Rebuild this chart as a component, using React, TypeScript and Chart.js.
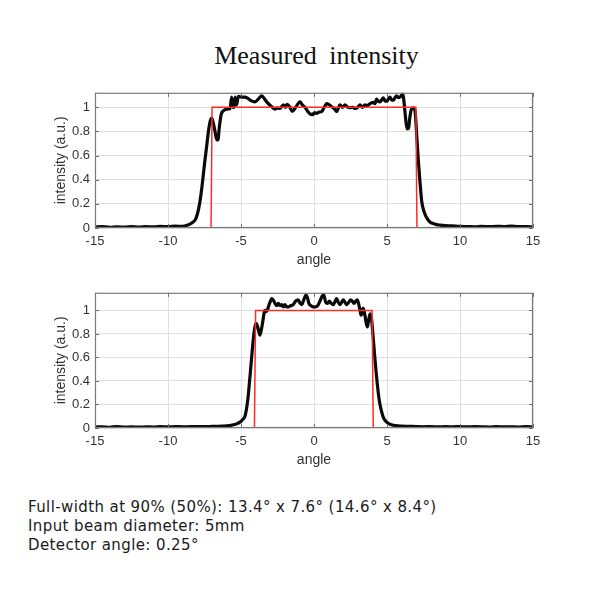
import React, { useEffect, useRef } from "react";
import { Chart, registerables } from "chart.js";

Chart.register(...registerables);

// ---- Data ----
const xTickValues = [-15, -10, -5, 0, 5, 10, 15];
const yTickValues = [0, 0.2, 0.4, 0.6, 0.8, 1];

// Top panel: measured intensity (black)
const topAngle = [
  -15, -14.5, -14, -13.5, -13, -12.5, -12, -11.5, -11, -10.5, -10, -9.5, -9, -8.7, -8.4, -8.1,
  -7.9, -7.75, -7.6, -7.5, -7.35, -7.22, -7.1, -7.0, -6.9, -6.78, -6.66, -6.58, -6.48, -6.36,
  -6.21, -5.98, -5.75, -5.64, -5.55, -5.47, -5.41, -5.3, -5.18, -4.95, -4.73, -4.55, -4.38,
  -4.04, -3.8, -3.58, -3.42, -3.24, -2.9, -2.67, -2.5, -2.33, -2.1, -1.95, -1.85, -1.65, -1.49,
  -1.25, -0.96, -0.8, -0.62, -0.45, -0.27, -0.1, 0.05, 0.18, 0.35, 0.53, 0.7, 0.87, 1.05, 1.21,
  1.38, 1.55, 1.78, 1.95, 2.12, 2.3, 2.47, 2.65, 2.81, 3.0, 3.15, 3.32, 3.49, 3.65, 3.84, 4.06,
  4.18, 4.29, 4.41, 4.52, 4.63, 4.75, 4.87, 4.98, 5.1, 5.21, 5.32, 5.43, 5.55, 5.66, 5.78, 5.89,
  6.0, 6.07, 6.16, 6.24, 6.32, 6.4, 6.48, 6.58, 6.7, 6.8, 6.92, 7.03, 7.14, 7.26, 7.38, 7.5,
  7.65, 7.83, 8.0, 8.17, 8.4, 8.63, 9.0, 9.3, 9.7, 10, 10.5, 11, 11.5, 12, 12.5, 13, 13.5, 14,
  14.5, 15,
];
const topIntensity = [
  0.008, 0.012, 0.006, 0.01, 0.007, 0.011, 0.008, 0.012, 0.009, 0.013, 0.011, 0.015, 0.014, 0.022,
  0.04, 0.075, 0.16, 0.27, 0.42, 0.53, 0.68, 0.81, 0.89, 0.91, 0.87, 0.8, 0.73, 0.73, 0.84, 0.94,
  0.97, 0.985, 0.99, 1.085, 1.0, 1.0, 1.085, 1.02, 1.09, 1.085, 1.085, 1.075, 1.06,
  1.045, 1.07, 1.095, 1.075, 1.045, 1.005, 0.985, 0.995, 0.99, 1.02, 1.0, 1.025, 1.0, 0.965,
  1.0, 1.045, 1.02, 1.0, 0.97, 0.945, 0.94, 0.955, 0.95, 0.96, 0.965, 1.0, 1.03, 1.02, 1.005,
  0.99, 0.965, 1.02, 1.0, 1.02, 1.0, 0.997, 1.0, 0.99, 1.0, 1.02, 1.0, 1.02, 1.015, 1.03, 1.04,
  1.03, 1.067, 1.05, 1.045, 1.06, 1.078, 1.05, 1.05, 1.07, 1.085, 1.06, 1.06, 1.08, 1.095, 1.08, 1.085,
  1.1, 1.115, 1.05, 0.95, 0.86, 0.82, 0.83, 0.93, 0.99, 0.995, 0.97, 0.78, 0.57, 0.38, 0.22, 0.15,
  0.1, 0.064, 0.045, 0.037, 0.028, 0.024, 0.02, 0.018, 0.016, 0.013, 0.012, 0.01, 0.013, 0.011, 0.014, 0.012, 0.015, 0.011,
  0.012, 0.009,
];
// Top panel: ideal top-hat (red)
const topIdealAngle = [-15, -7.05, -6.98, 6.98, 7.05, 15];
const topIdealIntensity = [0, 0, 1, 1, 0, 0];

// Bottom panel: measured intensity (black)
const bottomAngle = [
  -15, -14.5, -14, -13.5, -13, -12.5, -12, -11.5, -11, -10.5, -10, -9.5, -9, -8.5, -8, -7.5, -7,
  -6.5, -6, -5.6, -5.3, -5.07, -4.9, -4.73, -4.6, -4.5, -4.42, -4.34, -4.25, -4.16, -4.06, -3.97,
  -3.88, -3.78, -3.7, -3.6, -3.51, -3.43, -3.36, -3.28, -3.2, -3.1, -3.01, -2.9, -2.8, -2.67,
  -2.55, -2.44, -2.32, -2.21, -2.1, -1.99, -1.88, -1.76, -1.6, -1.42, -1.25, -1.08, -0.95, -0.84,
  -0.7, -0.55, -0.45, -0.35, -0.2, -0.05, 0.1, 0.25, 0.41, 0.55, 0.66, 0.8, 0.93, 1.05, 1.18,
  1.32, 1.45, 1.55, 1.66, 1.78, 1.9, 2.0, 2.12, 2.24, 2.38, 2.51, 2.62, 2.74, 2.86, 2.97, 3.07,
  3.15, 3.22, 3.29, 3.36, 3.42, 3.5, 3.58, 3.65, 3.72, 3.79, 3.86, 3.94, 4.02, 4.1, 4.18, 4.26,
  4.34, 4.43, 4.52, 4.63, 4.75, 4.9, 5.09, 5.3, 5.6, 6, 6.5, 7, 7.5, 8, 8.5, 9, 9.5, 10, 10.5,
  11, 11.5, 12, 12.5, 13, 13.5, 14, 14.5, 15,
];
const bottomIntensity = [
  0.008, 0.01, 0.006, 0.012, 0.008, 0.009, 0.007, 0.01, 0.008, 0.011, 0.009, 0.012, 0.01, 0.011, 0.012, 0.011, 0.013,
  0.015, 0.018, 0.025, 0.035, 0.05, 0.07, 0.1, 0.18, 0.28, 0.39, 0.5, 0.63, 0.75, 0.85, 0.89,
  0.87, 0.82, 0.79, 0.84, 0.905, 0.97, 1.0, 0.99, 1.0, 1.04, 1.07, 1.1, 1.09, 1.06,
  1.04, 1.06, 1.04, 1.05, 1.03, 1.05, 1.03, 1.03, 1.04, 1.05, 1.08, 1.09, 1.06, 1.05,
  1.09, 1.13, 1.11, 1.06, 1.04, 1.03, 1.03, 1.04, 1.08, 1.12, 1.135, 1.07, 1.06, 1.08, 1.06,
  1.05, 1.08, 1.1, 1.07, 1.05, 1.07, 1.09, 1.07, 1.05, 1.07, 1.09, 1.08, 1.06, 1.08, 1.09, 1.05,
  1.0, 0.96, 0.98, 1.02, 1.0, 0.95, 0.89, 0.86, 0.9, 0.95, 0.97, 0.93, 0.82, 0.7, 0.58, 0.47,
  0.37, 0.27, 0.2, 0.14, 0.09, 0.06, 0.04, 0.028, 0.02, 0.016, 0.014, 0.012, 0.01, 0.012, 0.009, 0.011, 0.01, 0.012, 0.009,
  0.011, 0.01, 0.008, 0.011, 0.009, 0.01, 0.008, 0.011, 0.009,
];
// Bottom panel: ideal top-hat (red)
const bottomIdealAngle = [-15, -4.08, -4.0, 3.98, 4.06, 15];
const bottomIdealIntensity = [0, 0, 1, 1, 0, 0];

const titleText = "Measured intensity";
const xAxisTitle = "angle";
const yAxisTitle = "intensity (a.u.)";
const noteLines = [
  "Full-width at 90% (50%): 13.4° x 7.6° (14.6° x 8.4°)",
  "Input beam diameter: 5mm",
  "Detector angle: 0.25°",
];

// ---- Chart helpers ----
const AXIS_FONT = "'Liberation Sans', Arial, sans-serif";

const framePlugin = {
  id: "matlabFrame",
  afterDatasetsDraw(chart: any) {
    const { ctx, chartArea } = chart;
    const { left, right, top, bottom } = chartArea;
    const xs = chart.scales.x;
    const ys = chart.scales.y;
    ctx.save();
    ctx.strokeStyle = "#6e6e6e";
    ctx.lineWidth = 1;
    const tl = 4;
    ctx.beginPath();
    xs.ticks.forEach((t: any) => {
      const px = Math.round(xs.getPixelForValue(t.value)) + 0.5;
      ctx.moveTo(px, bottom);
      ctx.lineTo(px, bottom - tl);
      ctx.moveTo(px, top);
      ctx.lineTo(px, top + tl);
    });
    ys.ticks.forEach((t: any) => {
      const py = Math.round(ys.getPixelForValue(t.value)) + 0.5;
      ctx.moveTo(left, py);
      ctx.lineTo(left + tl, py);
      ctx.moveTo(right, py);
      ctx.lineTo(right - tl, py);
    });
    ctx.stroke();
    ctx.strokeStyle = "#7a7a7a";
    ctx.lineWidth = 1.2;
    ctx.strokeRect(left + 0.5, top + 0.5, right - left - 1, bottom - top - 1);
    ctx.restore();
  },
};

function makeConfig(
  angles: number[],
  values: number[],
  idealAngles: number[],
  idealValues: number[],
  yMax: number
): any {
  return {
    type: "line",
    data: {
      datasets: [
        {
          data: idealAngles.map((a, i) => ({ x: a, y: idealValues[i] })),
          borderColor: "#ff2b2b",
          borderWidth: 1.5,
          pointRadius: 0,
          tension: 0,
        },
        {
          data: angles.map((a, i) => ({ x: a, y: values[i] })),
          borderColor: "#0a0a0a",
          borderWidth: 3.2,
          pointRadius: 0,
          cubicInterpolationMode: "monotone",
          borderJoinStyle: "round",
        },
      ],
    },
    options: {
      animation: false,
      responsive: false,
      maintainAspectRatio: false,
      layout: { padding: { top: 9, right: 17, left: 0, bottom: 0 } },
      plugins: { legend: { display: false }, tooltip: { enabled: false } },
      scales: {
        x: {
          type: "linear",
          min: -15,
          max: 15,
          afterBuildTicks: (s: any) => {
            s.ticks = xTickValues.map((v) => ({ value: v }));
          },
          afterFit: (s: any) => {
            s.height = 52;
          },
          grid: { color: "#e0e0e0", lineWidth: 1, drawTicks: false },
          border: { display: false },
          ticks: {
            padding: 6,
            color: "#333333",
            font: { family: AXIS_FONT, size: 13 },
            maxRotation: 0,
            callback: (v: any) => String(v),
          },
          title: {
            display: true,
            text: xAxisTitle,
            color: "#333333",
            font: { family: AXIS_FONT, size: 14, lineHeight: 1.2 },
            padding: { top: 0, bottom: 11.6 },
          },
        },
        y: {
          type: "linear",
          min: 0,
          max: yMax,
          afterBuildTicks: (s: any) => {
            s.ticks = yTickValues.map((v) => ({ value: v }));
          },
          afterFit: (s: any) => {
            s.width = 55;
          },
          grid: { color: "#e0e0e0", lineWidth: 1, drawTicks: false },
          border: { display: false },
          ticks: {
            padding: 5,
            color: "#333333",
            font: { family: AXIS_FONT, size: 13 },
            callback: (v: any) => String(Math.round(v * 10) / 10),
          },
          title: {
            display: true,
            text: yAxisTitle,
            color: "#333333",
            font: { family: AXIS_FONT, size: 14, lineHeight: 1.2 },
            padding: { top: 12.6, bottom: 0 },
          },
        },
      },
    },
    plugins: [framePlugin],
  };
}

function Panel(props: {
  top: number;
  angles: number[];
  values: number[];
  idealAngles: number[];
  idealValues: number[];
  yMax: number;
}) {
  const ref = useRef<HTMLCanvasElement | null>(null);
  useEffect(() => {
    if (!ref.current) return;
    const chart = new Chart(
      ref.current,
      makeConfig(props.angles, props.values, props.idealAngles, props.idealValues, props.yMax)
    );
    return () => chart.destroy();
  }, []);
  return (
    <canvas
      ref={ref}
      width={510}
      height={200}
      style={{ position: "absolute", left: 40, top: props.top, width: 510, height: 200, display: "block" }}
    />
  );
}

export default function App() {
  return (
    <div
      style={{
        position: "absolute",
        left: 0,
        top: 0,
        width: 600,
        height: 600,
        background: "#ffffff",
        overflow: "hidden",
      }}
    >
      <div
        style={{
          position: "absolute",
          left: 0,
          top: 43,
          width: 633,
          textAlign: "center",
          fontFamily: "'Liberation Serif', 'Times New Roman', serif",
          fontSize: 26,
          lineHeight: "26px",
          wordSpacing: 6,
          color: "#111",
          whiteSpace: "pre",
        }}
      >
        {titleText}
      </div>
      <Panel
        top={80}
        angles={topAngle}
        values={topIntensity}
        idealAngles={topIdealAngle}
        idealValues={topIdealIntensity}
        yMax={1.12}
      />
      <Panel
        top={280}
        angles={bottomAngle}
        values={bottomIntensity}
        idealAngles={bottomIdealAngle}
        idealValues={bottomIdealIntensity}
        yMax={1.15}
      />
      <div
        style={{
          position: "absolute",
          left: 28,
          top: 498,
          fontFamily: "'DejaVu Sans', Verdana, sans-serif",
          fontSize: 15,
          lineHeight: "19px",
          letterSpacing: 0.4,
          color: "#1a1a1a",
          whiteSpace: "pre",
        }}
      >
        {noteLines.map((l, i) => (
          <div key={i}>{l}</div>
        ))}
      </div>
    </div>
  );
}
